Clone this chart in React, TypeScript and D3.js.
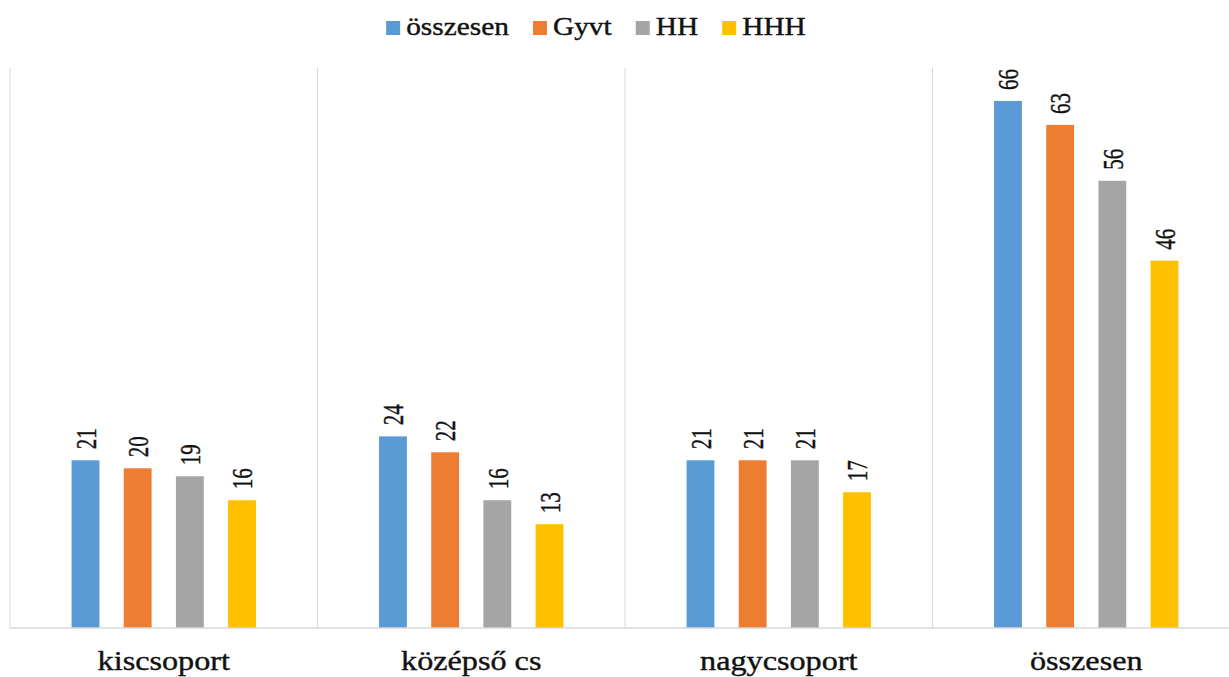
import { useEffect, useRef } from "react";
import * as d3 from "d3";

// chart data
const categories = ["kiscsoport", "középső cs", "nagycsoport", "összesen"];
const seriesNames = ["összesen", "Gyvt", "HH", "HHH"];
const osszesen = [21, 24, 21, 66];
const gyvt = [20, 22, 21, 63];
const hh = [19, 16, 21, 56];
const hhh = [16, 13, 17, 46];
const colors = ["#5B9BD5", "#ED7D31", "#A5A5A5", "#FFC000"];

const values = [osszesen, gyvt, hh, hhh];

const W = 1229;
const H = 677;
const FONT = "'Liberation Serif', 'Times New Roman', serif";

export default function App() {
  const ref = useRef<SVGSVGElement | null>(null);

  useEffect(() => {
    if (!ref.current) return;
    ref.current.innerHTML = "";
    const svg = d3.select(ref.current);

    const left = 10,
      top = 69,
      baseline = 628,
      groupW = 307.5;

    // groups (the right one is cut off by the picture edge)
    const x0 = d3
      .scaleBand<string>()
      .domain(categories)
      .range([left, left + groupW * categories.length]);
    const x1 = d3
      .scaleBand<string>()
      .domain(seriesNames)
      .range([0, x0.bandwidth()])
      .paddingInner(0.466)
      .paddingOuter(1.18);
    const y = d3.scaleLinear().domain([0, 70]).range([baseline, top]);

    // vertical separators
    svg
      .append("g")
      .selectAll("line")
      .data(categories)
      .join("line")
      .attr("x1", (d) => x0(d)!)
      .attr("x2", (d) => x0(d)!)
      .attr("y1", y(70) - 1)
      .attr("y2", baseline)
      .attr("stroke", "#d9d9d9")
      .attr("stroke-width", 1);

    // bars
    const groups = svg
      .append("g")
      .selectAll("g")
      .data(categories)
      .join("g")
      .attr("transform", (d) => `translate(${x0(d)},0)`);

    groups
      .selectAll("rect")
      .data((_, gi) => seriesNames.map((s, si) => ({ s, si, v: values[si][gi] })))
      .join("rect")
      .attr("x", (d) => x1(d.s)!)
      .attr("width", x1.bandwidth())
      .attr("y", (d) => y(d.v))
      .attr("height", (d) => baseline - y(d.v))
      .attr("fill", (d) => colors[d.si]);

    // value labels, rotated
    groups
      .selectAll("text")
      .data((_, gi) => seriesNames.map((s, si) => ({ s, si, v: values[si][gi] })))
      .join("text")
      .attr(
        "transform",
        (d) =>
          `translate(${x1(d.s)! + x1.bandwidth() / 2},${y(d.v) - 11}) scale(1.4,1) rotate(-90)`
      )
      .attr("dy", "0.35em")
      .attr("font-family", FONT)
      .attr("font-size", 21)
      .attr("fill", "#111")
      .attr("stroke", "#111")
      .attr("stroke-width", 0.3)
      .text((d) => d.v);

    // baseline
    svg
      .append("line")
      .attr("x1", left)
      .attr("x2", W)
      .attr("y1", baseline)
      .attr("y2", baseline)
      .attr("stroke", "#d9d9d9")
      .attr("stroke-width", 1.5);

    // category labels
    svg
      .append("g")
      .selectAll("text")
      .data(categories)
      .join("text")
      .attr("transform", (d) => `translate(${x0(d)! + x0.bandwidth() / 2},670) scale(1.15,1)`)
      .attr("text-anchor", "middle")
      .attr("font-family", FONT)
      .attr("font-size", 28)
      .attr("fill", "#111")
      .attr("stroke", "#111")
      .attr("stroke-width", 0.4)
      .text((d) => d);

    // legend
    const sq = 14,
      gapText = 6,
      gapItem = 24,
      sx = 1.13;
    const legend = svg.append("g");
    const items = legend
      .selectAll("g")
      .data(seriesNames)
      .join("g");
    items
      .append("rect")
      .attr("width", sq)
      .attr("height", sq)
      .attr("y", 21)
      .attr("fill", (_, i) => colors[i]);
    const texts = items
      .append("text")
      .attr("font-family", FONT)
      .attr("font-size", 26)
      .attr("fill", "#111")
      .attr("stroke", "#111")
      .attr("stroke-width", 0.4)
      .text((d) => d);
    let cx = 0;
    const offsets: number[] = [];
    texts.each(function () {
      offsets.push(cx);
      const w = (this as SVGTextElement).getComputedTextLength() * sx;
      cx += sq + gapText + w + gapItem;
    });
    const total = cx - gapItem;
    const startX = 596 - total / 2;
    items.attr("transform", (_, i) => `translate(${startX + offsets[i]},0)`);
    texts.attr("transform", `translate(${sq + gapText},35) scale(${sx},1)`);
  }, []);

  return (
    <svg
      ref={ref}
      width={W}
      height={H}
      style={{ position: "absolute", left: 0, top: 0, background: "#fff" }}
    />
  );
}
